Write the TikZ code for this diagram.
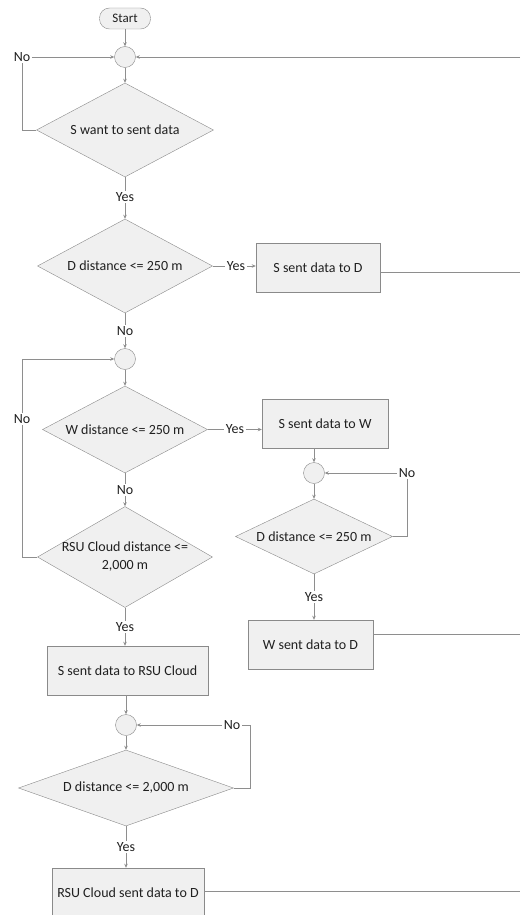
\documentclass[tikz,border=0pt]{standalone}
\usepackage{fontspec}
\setmainfont{Carlito}
\usetikzlibrary{shapes.geometric,arrows.meta,calc}
\definecolor{lnc}{HTML}{8E8E8E}
\definecolor{bdc}{HTML}{8A8A8A}
\definecolor{flc}{HTML}{F0F0F0}
\definecolor{txc}{HTML}{202020}
\begin{document}
\begin{tikzpicture}[x=1pt,y=-1pt,
  every node/.style={font=\fontsize{14}{18}\selectfont, text=txc},
  dia/.style n args={2}{diamond, draw=bdc, fill=flc, inner sep=0pt, minimum width=#1, minimum height=#2},
  boxn/.style n args={2}{rectangle, draw=bdc, fill=flc, inner sep=0pt, minimum width=#1, minimum height=#2},
  circn/.style={circle, draw=bdc, fill=flc, minimum size=21pt, inner sep=0pt},
  lab/.style={inner sep=1.5pt},
  ln/.style={draw=lnc, line width=0.8pt},
  arr/.style={ln, -{Stealth[length=4pt,width=3.5pt]}}]
\fill[white] (0,0) rectangle (520,915);
\useasboundingbox (0,0) rectangle (520,915);
% column 1
\node[boxn={51pt}{21pt}, rounded corners=10pt, font=\fontsize{13}{15}\selectfont] (start) at (125,18.5) {Start};
\node[circn] (c1) at (125,57) {};
\node[dia={177pt}{94pt}] (d1) at (125,130) {};
\node (d1t) at (d1) {S want to sent data};
\node[lab] (n1) at (22,57) {No};
\node[lab] (y1) at (125,197) {Yes};
\node[dia={175pt}{94pt}] (d2) at (125,266) {};
\node (d2t) at (d2) {D distance <= 250 m};
\node[lab] (y2) at (236,266) {Yes};
\node[boxn={124pt}{49pt}] (bD) at (318,267.5) {S sent data to D};
\node[lab] (n2) at (125,331) {No};
\node[circn] (c2) at (125,359) {};
\node[dia={165pt}{87pt}] (d3) at (125,429.5) {};
\node (d3t) at (d3) {W distance <= 250 m};
\node[lab] (y3) at (235,429.5) {Yes};
\node[boxn={126pt}{49pt}] (bW) at (325,423.5) {S sent data to W};
\node[lab] (n3) at (125,490) {No};
\node[dia={175pt}{101pt}] (d5) at (125,557) {};
\node[align=center] (d5t) at (d5) {RSU Cloud distance <=\\2,000 m};
\node[lab] (nl) at (22,419) {No};
\node[lab] (y5) at (125,627) {Yes};
\node[boxn={161pt}{49pt}] (bR) at (127.5,670.5) {S sent data to RSU Cloud};
\node[circn] (c4) at (126,725) {};
\node[lab] (n6) at (232,725) {No};
\node[dia={215pt}{76pt}] (d6) at (126,788) {};
\node (d6t) at (d6) {D distance <= 2,000 m};
\node[lab] (y6) at (126,847) {Yes};
\node[boxn={152pt}{49pt}] (bRD) at (128,892.5) {RSU Cloud sent data to D};
% column 2
\node[circn] (c3) at (314,473) {};
\node[lab] (n4) at (407,473) {No};
\node[dia={157pt}{75pt}] (d4) at (314,536.5) {};
\node (d4t) at (d4) {D distance <= 250 m};
\node[lab] (y4) at (314,597) {Yes};
\node[boxn={125pt}{49pt}] (bWD) at (310.5,644.5) {W sent data to D};
% free ends
\coordinate (r1) at (520,57);
\coordinate (r2) at (520,272);
\coordinate (r3) at (520,634);
\coordinate (r4) at (520,891);
\coordinate (k4) at (250,725);
% connectors
\draw[arr] (start) -- (c1);
\draw[arr] (c1) -- (d1);
\draw[ln] (d1.west) -| (n1);
\draw[arr] (n1) -- (c1);
\draw[arr] (r1) -- (c1);
\draw[ln] (d1) -- (y1);
\draw[arr] (y1) -- (d2);
\draw[ln] (d2) -- (y2);
\draw[arr] (y2) -- (bD.west |- y2);
\draw[ln] (bD.east |- r2) -- (r2);
\draw[ln] (d2) -- (n2);
\draw[arr] (n2) -- (c2);
\draw[arr] (c2) -- (d3);
\draw[ln] (d3) -- (y3);
\draw[arr] (y3) -- (bW.west |- y3);
\draw[ln] (d3) -- (n3);
\draw[arr] (n3) -- (d5);
\draw[ln] (d5.west) -| (nl);
\draw[arr] (nl) |- (c2);
\draw[ln] (d5) -- (y5);
\draw[arr] (y5) -- (bR.north -| y5);
\draw[arr] (bR.south -| c4) -- (c4);
\draw[arr] (c4) -- (d6);
\draw[ln] (d6.east) -| (k4) -- (n6);
\draw[arr] (n6) -- (c4);
\draw[ln] (d6) -- (y6);
\draw[arr] (y6) -- (bRD.north -| y6);
\draw[ln] (bRD.east |- r4) -- (r4);
\draw[arr] (bW.south -| c3) -- (c3);
\draw[arr] (c3) -- (d4);
\draw[ln] (d4.east) -| (n4);
\draw[arr] (n4) -- (c3);
\draw[ln] (d4) -- (y4);
\draw[arr] (y4) -- (bWD.north -| y4);
\draw[ln] (bWD.east |- r3) -- (r3);
\end{tikzpicture}
\end{document}
